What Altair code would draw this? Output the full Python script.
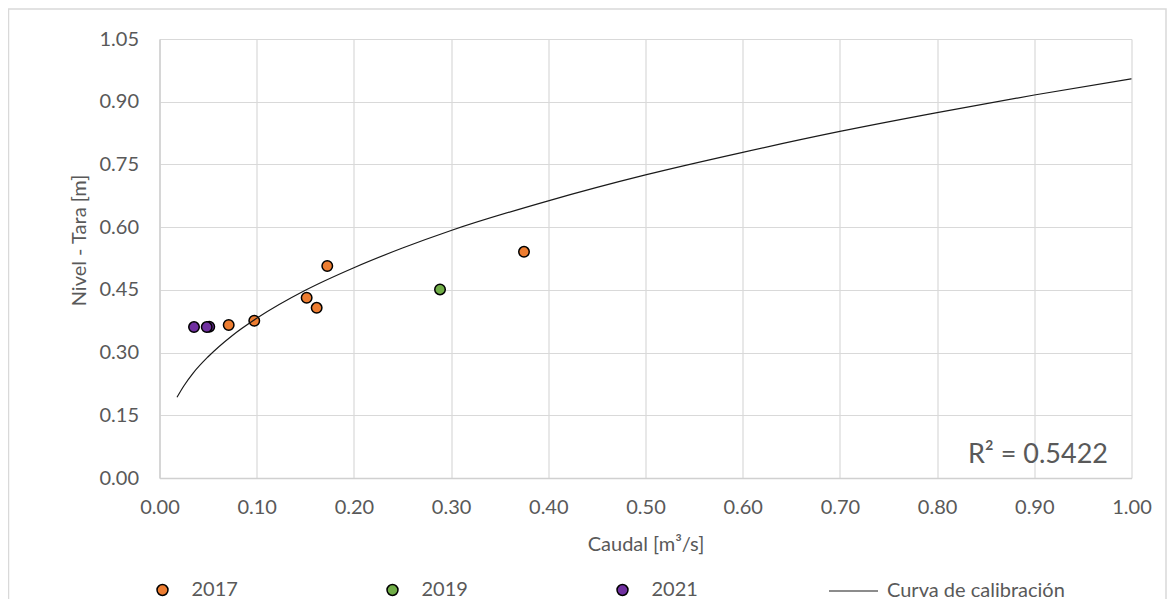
import altair as alt
import pandas as pd

# ---- observed gaugings (Caudal [m3/s], Nivel - Tara [m]) ----
q_2017 = [0.0712, 0.0975, 0.1514, 0.1617, 0.1726, 0.375]
h_2017 = [0.366, 0.376, 0.431, 0.407, 0.507, 0.541]
q_2019 = [0.2886]
h_2019 = [0.451]
q_2021 = [0.0512, 0.0355, 0.0486]
h_2021 = [0.362, 0.361, 0.361]

# ---- calibration curve ----
curve_q = [0.018, 0.025, 0.035, 0.05, 0.075, 0.10, 0.15, 0.20, 0.25, 0.30,
           0.40, 0.50, 0.60, 0.70, 0.80, 0.90, 1.00]
curve_h = [0.193, 0.220, 0.252, 0.290, 0.341, 0.382, 0.449, 0.503, 0.550, 0.592,
           0.663, 0.725, 0.779, 0.829, 0.874, 0.916, 0.955]

series_names = ["2017", "2019", "2021"]
series_colors = ["#ED7D31", "#70AD47", "#7030A0"]
curve_name = "Curva de calibración"
r2_label = "R² = 0.5422"

x_ticks = [0.0, 0.1, 0.2, 0.3, 0.4, 0.5, 0.6, 0.7, 0.8, 0.9, 1.0]
y_ticks = [0.0, 0.15, 0.30, 0.45, 0.60, 0.75, 0.90, 1.05]

x_title = "Caudal [m³/s]"
y_title = "Nivel - Tara [m]"

# ---- tables ----
rows = []
for name, qs, hs in [("2017", q_2017, h_2017), ("2019", q_2019, h_2019), ("2021", q_2021, h_2021)]:
    for q, h in zip(qs, hs):
        rows.append({"Caudal": q, "Nivel": h, "Serie": name})
pts = pd.DataFrame(rows)
curve = pd.DataFrame({"Caudal": curve_q, "Nivel": curve_h, "Curva": curve_name})

TXT = "#595959"
GRID = "#D9D9D9"
FONT = "Lato"
W, H = 972, 439

xs = alt.Scale(domain=[0, 1.0], nice=False, zero=False, padding=0)
ys = alt.Scale(domain=[0, 1.05], nice=False, zero=False, padding=0)

x_axis = alt.Axis(values=x_ticks, format=".2f", title=x_title, ticks=False,
                  labelFlush=False, labelOverlap=False,
                  labelPadding=19, titleY=72, titleBaseline="alphabetic")
y_axis = alt.Axis(values=y_ticks, format=".2f", title=y_title, ticks=False,
                  labelFlush=False, labelOverlap=False,
                  labelPadding=21, titleX=-74.5, titleY=201, titleAngle=270,
                  titleBaseline="alphabetic", titleAlign="center")

points = alt.Chart(pts).mark_point(filled=True, size=110, stroke="black",
                                   strokeWidth=1.5, opacity=1).encode(
    x=alt.X("Caudal:Q", scale=xs, axis=x_axis),
    y=alt.Y("Nivel:Q", scale=ys, axis=y_axis),
    color=alt.Color("Serie:N",
                    scale=alt.Scale(domain=series_names, range=series_colors),
                    legend=alt.Legend(title=None, orient="none", direction="horizontal",
                                      legendX=-7, legendY=541, symbolType="circle",
                                      symbolSize=120, symbolStrokeColor="black",
                                      symbolStrokeWidth=1.5, labelOffset=19,
                                      columnPadding=144, padding=0)),
)

line = alt.Chart(curve).mark_line(strokeWidth=1.2, interpolate="monotone").encode(
    x=alt.X("Caudal:Q", scale=xs),
    y=alt.Y("Nivel:Q", scale=ys),
    color=alt.Color("Curva:N",
                    scale=alt.Scale(domain=[curve_name], range=["#1a1a1a"]),
                    legend=alt.Legend(title=None, orient="none", legendX=668.5, legendY=526.5,
                                      symbolType="stroke", symbolSize=2401,
                                      symbolStrokeWidth=1.2, labelOffset=8, padding=0,
                                      labelLimit=400)),
)

r2 = alt.Chart(pd.DataFrame({"t": [r2_label]})).mark_text(
    font=FONT, fontSize=27, color=TXT, align="right", baseline="alphabetic"
).encode(text="t:N", x=alt.value(948.5), y=alt.value(424))

frame = alt.Chart(pd.DataFrame({"k": [0]})).mark_rect(
    fillOpacity=0, stroke=GRID, strokeWidth=1.5
).encode(x=alt.value(-151), x2=alt.value(1006.5), y=alt.value(-30), y2=alt.value(800))

chart = alt.layer(frame, points, line, r2).resolve_scale(color="independent").properties(
    width=W, height=H,
    autosize=alt.AutoSizeParams(type="none"),
    padding={"left": 151.5, "top": 31, "right": 35, "bottom": 121},
).configure_view(stroke="transparent").configure_axis(
    labelFont=FONT, labelFontSize=20, labelColor=TXT,
    titleFont=FONT, titleFontSize=20, titleColor=TXT, titleFontWeight="normal",
    gridColor=GRID, gridWidth=1.2, domainColor="#D0D0D0", domainWidth=1.5,
).configure_legend(
    labelFont=FONT, labelFontSize=20, labelColor=TXT,
)

chart.save("out.html", embed_options={"renderer": "svg", "actions": False})
